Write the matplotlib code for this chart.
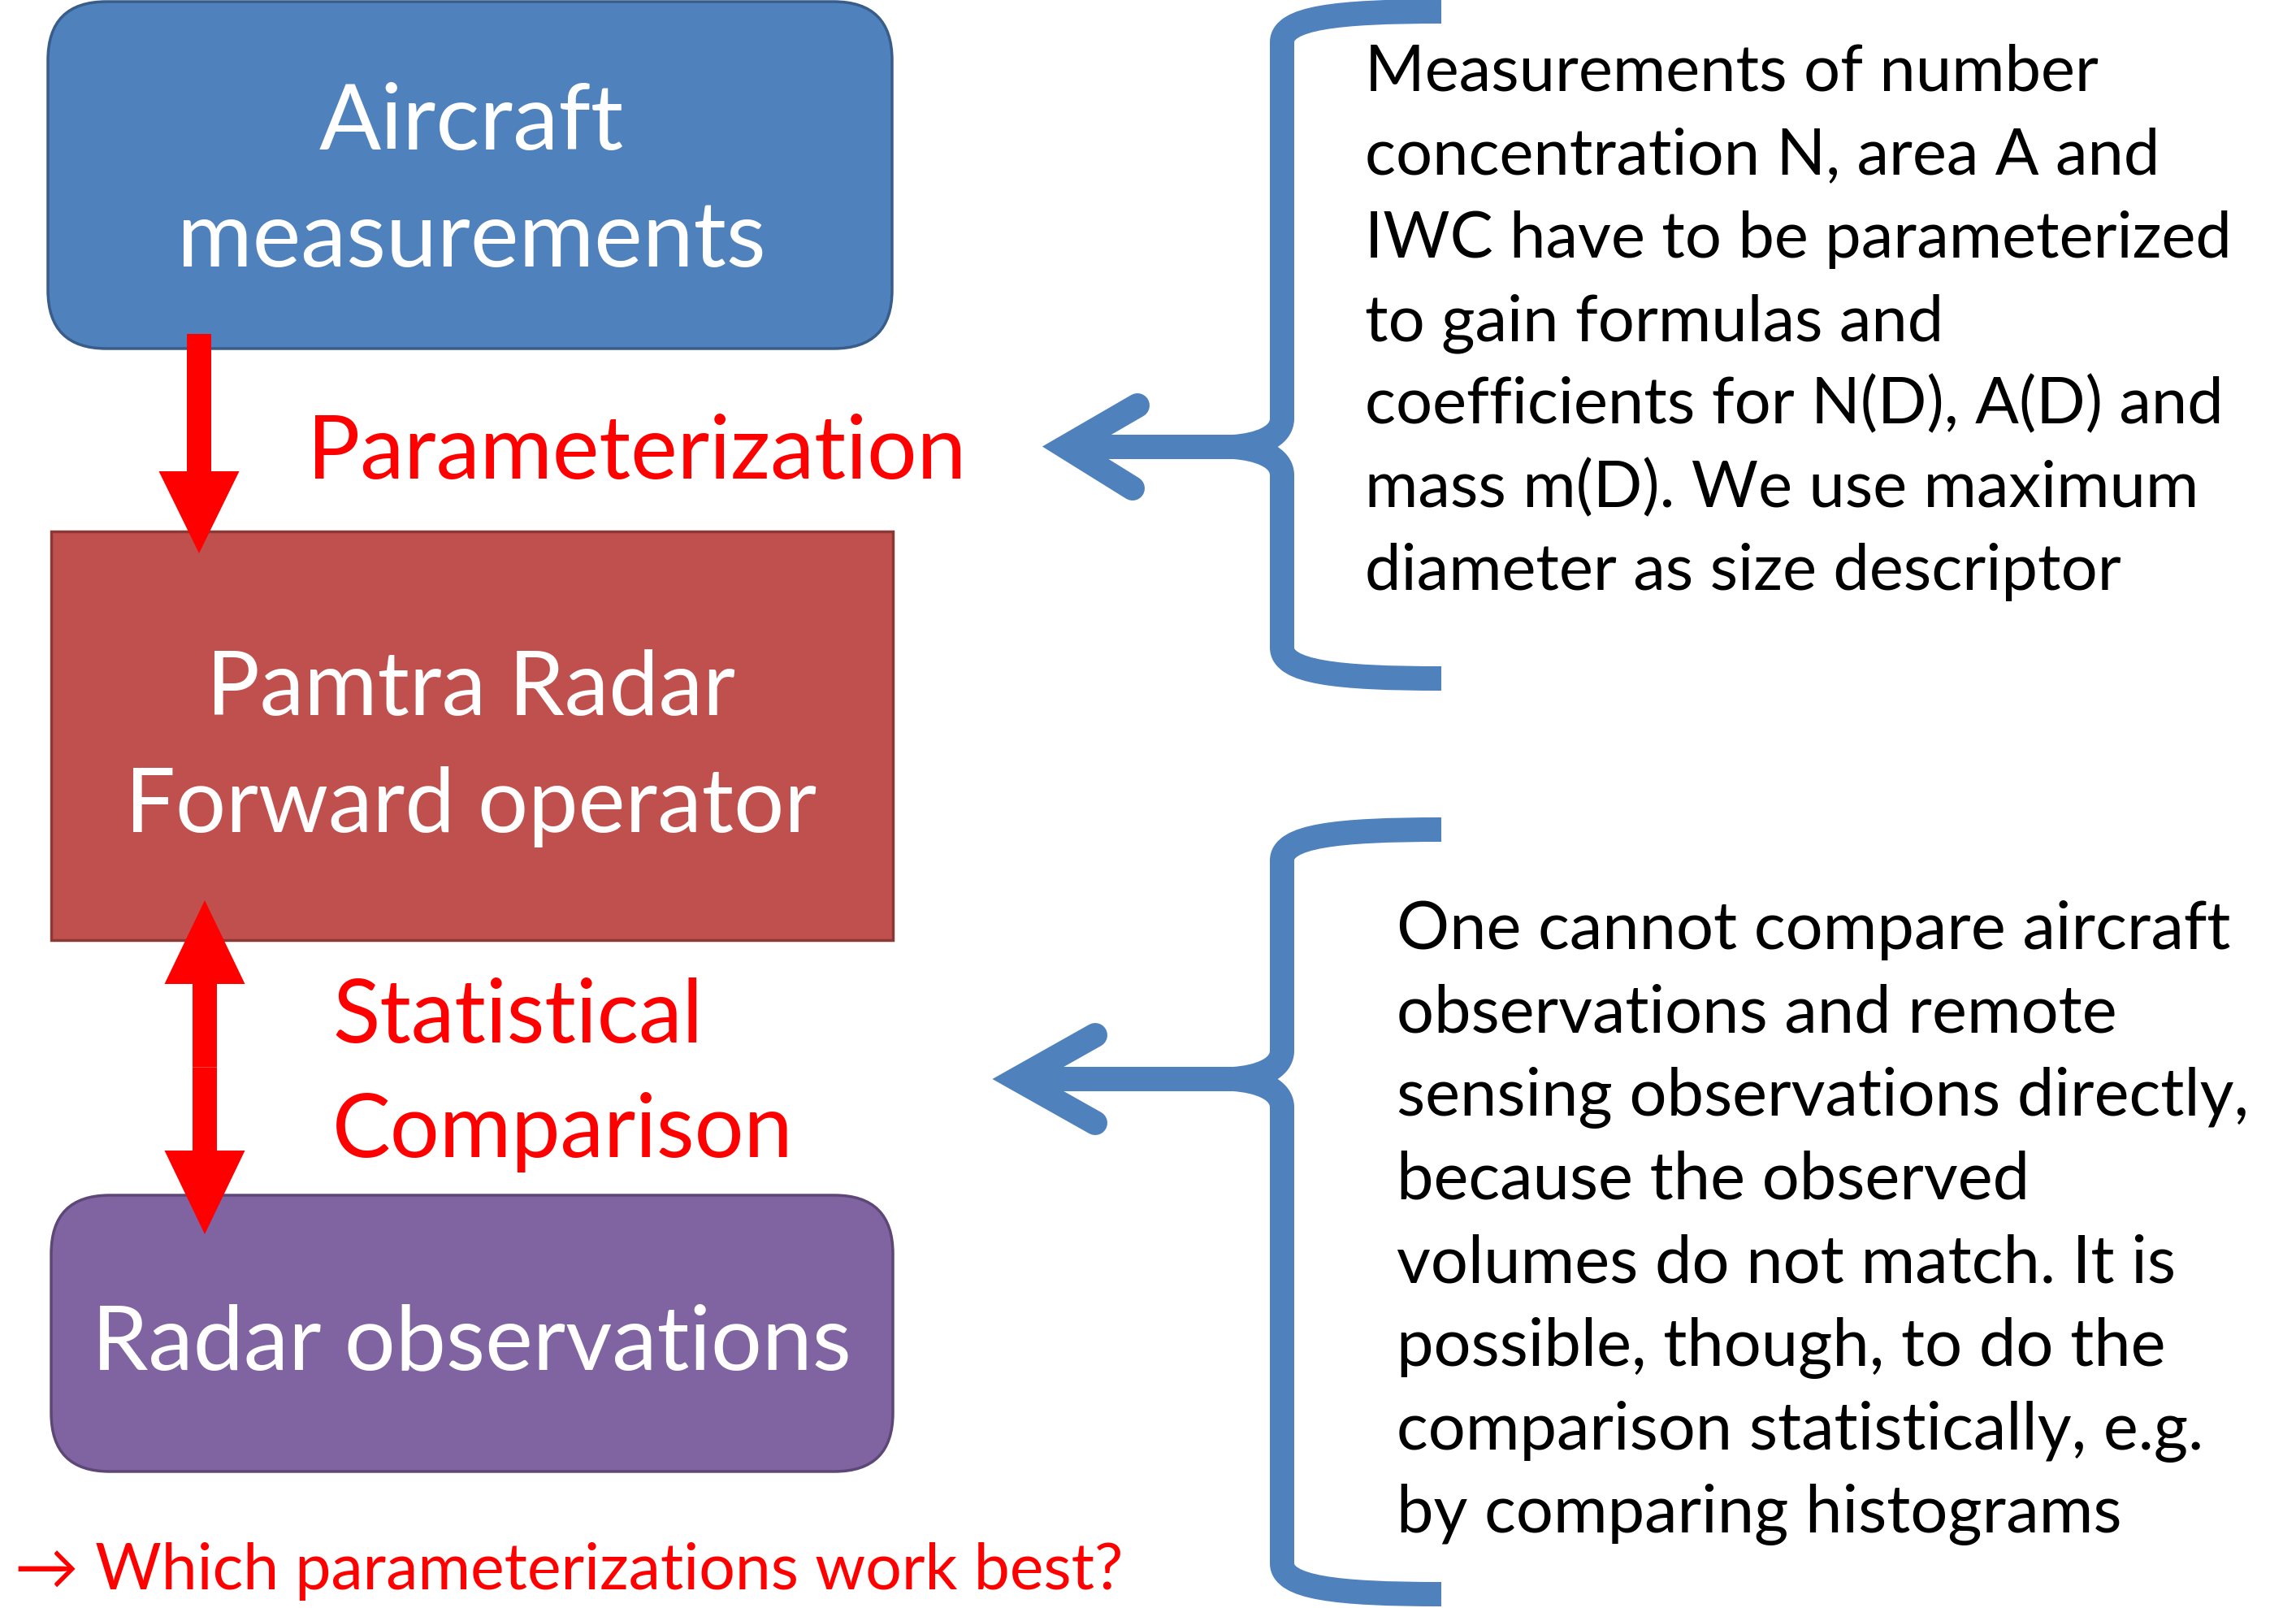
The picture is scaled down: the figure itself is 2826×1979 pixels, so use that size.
import matplotlib
matplotlib.use("Agg")
import matplotlib.pyplot as plt
from matplotlib.patches import FancyBboxPatch, Rectangle, FancyArrow, PathPatch
from matplotlib.path import Path

# texts
box_texts = [["Aircraft", "measurements"],
             ["Pamtra Radar", "Forward operator"],
             ["Radar observations"]]
red_labels = [["Parameterization"], ["Statistical", "Comparison"]]
question = "\u2192 Which parameterizations work best?"
note_top = ["Measurements of number",
            "concentration N, area A and",
            "IWC have to be parameterized",
            "to gain formulas and",
            "coefficients for N(D), A(D) and",
            "mass m(D). We use maximum",
            "diameter as size descriptor"]
note_bottom = ["One cannot compare aircraft",
               "observations and remote",
               "sensing observations directly,",
               "because the observed",
               "volumes do not match. It is",
               "possible, though, to do the",
               "comparison statistically, e.g.",
               "by comparing histograms"]

W, H = 2826, 1979
fig = plt.figure(figsize=(W / 100, H / 100), dpi=100)
ax = fig.add_axes([0, 0, 1, 1])
ax.set_xlim(0, W)
ax.set_ylim(H, 0)
ax.axis("off")
renderer = fig.canvas.get_renderer()

FONT = ["Lato", "DejaVu Sans"]
BLUE = "#4F81BD"

def fit(texts, target):
    # scale every text in the group so the widest one is target px wide
    widest = max(t.get_window_extent(renderer).width for t in texts)
    for t in texts:
        t.set_fontsize(t.get_fontsize() * target / widest)

# boxes
ax.add_patch(FancyBboxPatch((59, 2), 1039, 427, boxstyle="round,pad=0,rounding_size=72",
                            fc=BLUE, ec="#385D8A", lw=2.5, zorder=1))
ax.add_patch(Rectangle((63, 654), 1036, 503, fc="#C0504D", ec="#8C3836", lw=2.5, zorder=1))
ax.add_patch(FancyBboxPatch((63, 1471), 1036, 340, boxstyle="round,pad=0,rounding_size=72",
                            fc="#8064A2", ec="#5C4776", lw=2.5, zorder=1))

# white box labels (baselines, widths)
box_lines = [(box_texts[0], [184, 328], 725),
             (box_texts[1], [880, 1024], 852),
             (box_texts[2], [1685], 935)]
for lines, ys, wd in box_lines:
    ts = [ax.text(580, y, s, color="white", fontsize=60, family=FONT,
                  ha="center", va="baseline", zorder=3) for s, y in zip(lines, ys)]
    fit(ts, wd)

# red labels
t = ax.text(378, 589, red_labels[0][0], color="red", fontsize=60, family=FONT, va="baseline")
fit([t], 812)
ts = [ax.text(409, y, s, color="red", fontsize=60, family=FONT, va="baseline")
      for s, y in zip(red_labels[1], [1283, 1424])]
fit(ts, 568)
t = ax.text(18, 1956, question, color="red", fontsize=60, family=FONT, va="baseline")
fit([t], 1366)

# red arrows
ax.add_patch(FancyArrow(245, 411, 0, 270, width=30, head_width=99, head_length=101,
                        length_includes_head=True, color="red", lw=0, zorder=4))
mid = (1108 + 1519) / 2
ax.add_patch(FancyArrow(252, mid, 0, 1108 - mid, width=30, head_width=99, head_length=103,
                        length_includes_head=True, color="red", lw=0, zorder=4))
ax.add_patch(FancyArrow(252, mid, 0, 1519 - mid, width=30, head_width=99, head_length=103,
                        length_includes_head=True, color="red", lw=0, zorder=4))

# braces with arrows
LW = 30 * 72 / 100

def brace(xv, tip_x, y_top, y_mid, y_bot, vx, barbs):
    M, C, L = Path.MOVETO, Path.CURVE4, Path.LINETO
    top = Path([(tip_x, y_top), (tip_x - 130, y_top), (xv, y_top + 8), (xv, y_top + 38),
                (xv, y_mid - 35), (xv, y_mid - 12), (xv - 30, y_mid - 2), (xv - 60, y_mid)],
               [M, C, C, C, L, C, C, C])
    bot = Path([(xv - 60, y_mid), (xv - 30, y_mid + 2), (xv, y_mid + 12), (xv, y_mid + 35),
                (xv, y_bot - 38), (xv, y_bot - 8), (tip_x - 130, y_bot), (tip_x, y_bot)],
               [M, C, C, C, L, C, C, C])
    for p in (top, bot):
        ax.add_patch(PathPatch(p, fill=False, ec=BLUE, lw=LW, capstyle="butt",
                               joinstyle="round", zorder=2))
    ax.plot([xv - 60, vx], [y_mid, y_mid], color=BLUE, lw=LW, solid_capstyle="butt", zorder=2)
    ax.plot([barbs[0][0], vx, barbs[1][0]], [barbs[0][1], y_mid, barbs[1][1]], color=BLUE,
            lw=LW, solid_capstyle="round", solid_joinstyle="miter", zorder=2)

brace(1578, 1774, 14, 550, 835, 1312, [(1400, 499), (1394, 601)])
brace(1578, 1774, 1021, 1328, 1962, 1252, [(1348, 1274), (1348, 1382)])

# right-hand notes
ts = [ax.text(1680, 112 + i * 102.4, s, color="black", fontsize=50, family=FONT, va="baseline")
      for i, s in enumerate(note_top)]
fit(ts, 1067)
ts = [ax.text(1719, 1168 + i * 102.6, s, color="black", fontsize=50, family=FONT, va="baseline")
      for i, s in enumerate(note_bottom)]
fit(ts, 1048)

fig.savefig("out.png", dpi=100, facecolor="white")
